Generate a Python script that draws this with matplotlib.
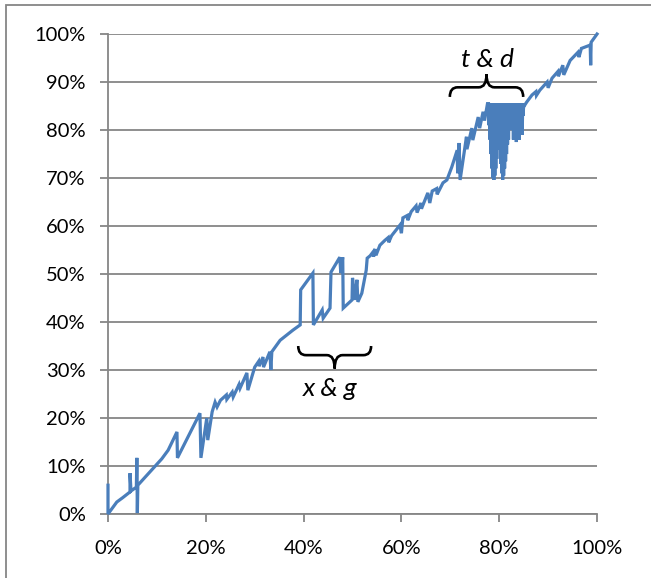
#!/usr/bin/env python

import matplotlib
matplotlib.use("Agg")
import matplotlib.pyplot as plt
from matplotlib.path import Path
from matplotlib.patches import PathPatch, Rectangle
from matplotlib.ticker import PercentFormatter

plt.rcParams["font.family"] = ["Lato", "DejaVu Sans"]

# cumulative share of the two orderings, in percent
x_before = [0, 0, 1.8, 3.0, 4.5, 4.5, 4.7, 5.8, 5.9, 6.0, 6.1, 11.0, 12.3,
            14.1, 14.2, 18.8, 19.0, 20.2, 20.4, 21.3, 21.9, 22.3, 23.0, 24.2,
            24.3, 25.4, 25.6, 26.8, 27.0, 28.4, 28.6, 30.0, 30.8, 30.9,
            31.7, 31.8, 33.1, 33.3, 33.5, 35.2, 37.8,
            39.3, 39.4, 41.9, 42.0, 43.8, 44.0, 45.4, 45.6, 47.4, 47.6, 48.0,
            48.1, 49.9, 50.0, 50.5, 50.9, 51.1, 51.9, 52.8, 53.0, 53.6, 54.2,
            54.3, 54.6, 54.8, 55.6, 56.6, 57.3, 57.4, 58.0, 59.7, 60.0, 60.3,
            61.2, 61.3, 62.0, 63.0, 63.2, 64.0, 64.1, 65.4, 65.8, 66.3, 67.2,
            67.3, 68.5, 69.3, 70.3, 71.4, 71.5, 71.8, 72.0, 73.3, 73.4, 74.4,
            74.6, 75.7, 76.0, 76.7, 77.0, 77.6]
y_before = [6, 0, 2.5, 3.4, 4.6, 8.5, 4.8, 5.6, 11.7, 0.2, 6.0, 11.5, 13.3,
            17.1, 11.7, 21.0, 11.7, 20.0, 15.4, 21.3, 23.3, 22.3, 23.7, 24.8,
            23.9, 25.4, 24.4, 27.0, 26.2, 29.4, 25.8, 30.6, 31.8, 30.8,
            32.7, 30.6, 33.8, 30.0, 33.8, 36.2, 38.3,
            39.4, 46.7, 50.2, 39.4, 42.5, 40.8, 42.9, 50.4, 53.5, 50.2, 53.5,
            42.9, 44.6, 49.2, 44.6, 48.8, 44.2, 46.0, 50.8, 53.3, 53.8, 54.6,
            53.6, 55.2, 53.9, 56.0, 57.0, 57.6, 56.6, 58.0, 60.2, 58.5, 61.7,
            62.2, 61.2, 63.0, 64.2, 62.8, 64.8, 63.6, 66.9, 64.8, 67.3, 67.8,
            66.6, 69.0, 69.6, 72.3, 75.8, 71.0, 77.3, 69.6, 78.6, 76.0, 80.4,
            77.9, 82.7, 80.4, 83.8, 82.0, 85.5]

# the flat-topped stretch where both runs sit at the cap
y_cap = 85.5
x_dense = [77.8, 78.0, 78.2, 78.4, 78.6, 78.8, 79.0, 79.2, 79.4, 79.6,
           79.8, 80.0, 80.2, 80.4, 80.6, 80.8, 81.0, 81.2, 81.4, 81.6,
           81.8, 82.0, 82.2, 82.4, 82.6, 82.8, 83.0, 83.2, 83.4, 83.6,
           83.8, 84.0, 84.2, 84.4, 84.6, 84.8, 85.0]
y_dense_low = [81.0, 78.0, 75.0, 72.0, 70.0, 69.6, 70.5, 72.0, 74.0, 76.0,
               78.0, 76.0, 73.0, 71.0, 69.6, 70.5, 72.0, 73.5, 75.0, 77.0,
               78.0, 80.0, 81.0, 83.0, 80.0, 78.0, 81.0, 83.0, 77.5, 80.0,
               83.0, 78.0, 82.0, 84.0, 79.0, 83.0, 85.0]

x_after = [85.6, 86.7, 87.5, 87.6, 88.3, 89.8, 90.0, 90.8, 92.0, 92.1, 93.0,
           93.2, 94.5, 96.1, 96.3, 96.8, 98.6, 98.7, 98.8, 100]
y_after = [85.8, 87.3, 88.0, 87.2, 88.3, 90.0, 88.8, 90.8, 92.2, 91.2, 93.5,
           91.5, 94.5, 96.2, 95.2, 97.0, 97.7, 93.5, 98.3, 100]

xs = list(x_before)
ys = list(y_before)
for xd, yl in zip(x_dense, y_dense_low):
    xs += [xd, xd + 0.1]
    ys += [y_cap, yl]
xs += x_after
ys += y_after


def brace(ax, x0, x1, y_end, y_line, y_tip, r=1.6):
    """Curly brace between x0 and x1, tip at y_tip."""
    xm = (x0 + x1) / 2
    verts = [(x0, y_end), (x0, y_line), (x0 + r, y_line),
             (xm - r, y_line),
             (xm, y_line), (xm, y_tip),
             (xm, y_line), (xm + r, y_line),
             (x1 - r, y_line),
             (x1, y_line), (x1, y_end)]
    codes = [Path.MOVETO, Path.CURVE3, Path.CURVE3,
             Path.LINETO,
             Path.CURVE3, Path.CURVE3,
             Path.CURVE3, Path.CURVE3,
             Path.LINETO,
             Path.CURVE3, Path.CURVE3]
    ax.add_patch(PathPatch(Path(verts, codes), fill=False, lw=1.9,
                           color="black", clip_on=False))


fig = plt.figure(figsize=(6.51, 5.78), dpi=100)
ax = fig.add_axes([0.1659, 0.1107, 0.7512, 0.8304])

ax.plot(xs, ys, color="#4a7ebb", lw=2.3, solid_joinstyle="miter",
        clip_on=False, zorder=3)

ax.set_xlim(0, 100)
ax.set_ylim(0, 100)
ax.set_xticks(range(0, 101, 20))
ax.set_yticks(range(0, 101, 10))
ax.xaxis.set_major_formatter(PercentFormatter(decimals=0))
ax.yaxis.set_major_formatter(PercentFormatter(decimals=0))
ax.tick_params(axis="both", direction="out", length=6, width=1.3,
               color="#868686", labelsize=14.5, pad=10)
ax.tick_params(axis="x", pad=13)
ax.grid(axis="y", color="#868686", lw=1.3)
ax.set_axisbelow(True)
for side in ("top", "right"):
    ax.spines[side].set_visible(False)
for side in ("left", "bottom"):
    ax.spines[side].set_color("#868686")
    ax.spines[side].set_linewidth(1.3)

brace(ax, 69.9, 84.9, 86.9, 88.9, 91.6)
brace(ax, 38.9, 53.8, 35.0, 33.1, 30.3)
ax.text(77.5, 94.6, "t & d", style="italic", fontsize=19,
        ha="center", va="center")
ax.text(45.4, 26.2, "x & g", style="italic", fontsize=19,
        ha="center", va="center")

# chart frame (only its top and left edges fall inside the image)
fig.patches.append(Rectangle((6 / 651, -0.1), 2.0, 0.1 + 1 - 5 / 578,
                             transform=fig.transFigure, fill=False,
                             edgecolor="#868686", lw=1.3))

plt.savefig("out.png", dpi=100)
